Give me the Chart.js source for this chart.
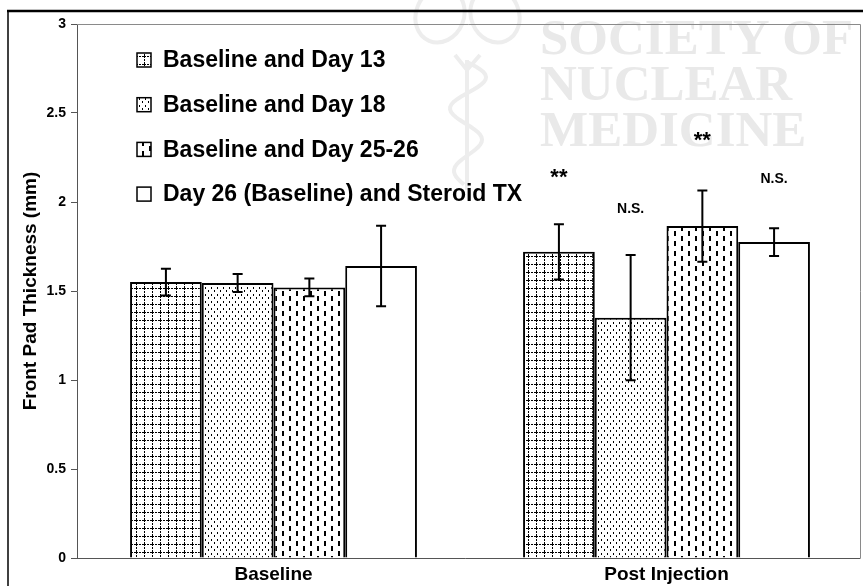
<!DOCTYPE html>
<html>
<head>
<meta charset="utf-8">
<script src="https://cdn.jsdelivr.net/npm/chart.js@4.4.1/dist/chart.umd.min.js"></script>
<style>
  html, body { margin: 0; padding: 0; background: #fff; }
  #wrap { width: 863px; height: 586px; }
</style>
</head>
<body>
<div id="wrap"><canvas id="barChart" width="863" height="586"></canvas></div>
<script>
// values
const groups = ["Baseline", "Post Injection"];
const seriesNames = ["Baseline and Day 13", "Baseline and Day 18", "Baseline and Day 25-26", "Day 26 (Baseline) and Steroid TX"];
const day13 = [1.55, 1.72];
const day18 = [1.545, 1.35];
const day2526 = [1.52, 1.865];
const steroid = [1.64, 1.775];
const err13 = [0.075, 0.155];
const err18 = [0.05, 0.352];
const err2526 = [0.05, 0.2];
const errSteroid = [0.226, 0.078];
// significance marks over the post injection bars
const marks = ["**", "N.S.", "**", "N.S."];
const markY = [2.16, 1.96, 2.365, 2.13];
const yTicks = [0, 0.5, 1, 1.5, 2, 2.5, 3];
const watermarkLines = ["SOCIETY OF", "NUCLEAR", "MEDICINE"];

const FONT = '"Liberation Sans", Arial, sans-serif';

function makePattern(kind) {
    const c = document.createElement('canvas');
    const g = c.getContext('2d');
    if (kind === 'grid') {
        c.width = 8; c.height = 8;
        g.fillStyle = '#fff'; g.fillRect(0, 0, 8, 8);
        g.fillStyle = '#000';
        for (let i = 0; i < 8; i += 3) { g.fillRect(i, 0, 2, 1); g.fillRect(0, i, 1, 2); }
    } else if (kind === 'dots') {
        c.width = 6; c.height = 7;
        g.fillStyle = '#fff'; g.fillRect(0, 0, 6, 7);
        g.fillStyle = '#000';
        g.fillRect(1, 0, 1, 2);
        g.fillRect(4, 3, 1, 2);
    } else if (kind === 'dash') {
        c.width = 14; c.height = 10;
        g.fillStyle = '#fff'; g.fillRect(0, 0, 14, 10);
        g.fillStyle = '#000';
        g.fillRect(2, 1, 2, 5);
        g.fillRect(9, 6, 2, 4);
        g.fillRect(9, 0, 2, 1);
    } else {
        c.width = 4; c.height = 4;
        g.fillStyle = '#fff'; g.fillRect(0, 0, 4, 4);
    }
    return g.createPattern(c, 'repeat');
}

const fills = [makePattern('grid'), makePattern('dots'), makePattern('dash'), makePattern('none')];
const values = [day13, day18, day2526, steroid];
const errors = [err13, err18, err2526, errSteroid];

// faint watermark behind the plot
const watermark = {
    id: 'watermark',
    beforeDraw(chart) {
        const ctx = chart.ctx;
        ctx.save();
        ctx.fillStyle = '#fff';
        ctx.fillRect(0, 0, chart.width, chart.height);
        ctx.strokeStyle = '#ededed';
        ctx.lineWidth = 4;
        // rough caduceus
        ctx.beginPath();
        ctx.moveTo(467, 60); ctx.lineTo(467, 190);
        ctx.stroke();
        ctx.beginPath();
        for (let t = 0; t <= 1; t += 0.02) {
            const yy = 62 + t * 125;
            const xx = 467 + Math.sin(t * Math.PI * 4) * 20 * (1 - t * 0.4);
            if (t === 0) ctx.moveTo(xx, yy); else ctx.lineTo(xx, yy);
        }
        ctx.stroke();
        ctx.beginPath();
        ctx.moveTo(455, 55); ctx.lineTo(467, 70); ctx.lineTo(480, 55);
        ctx.stroke();
        ctx.beginPath();
        ctx.ellipse(440, 15, 24, 28, 0.4, 0, Math.PI * 2);
        ctx.stroke();
        ctx.beginPath();
        ctx.ellipse(495, 15, 24, 28, -0.4, 0, Math.PI * 2);
        ctx.stroke();
        ctx.fillStyle = '#e9e9e9';
        ctx.font = 'bold 51px "Liberation Serif", "Times New Roman", serif';
        ctx.textBaseline = 'alphabetic';
        ctx.textAlign = 'left';
        watermarkLines.forEach((t, i) => ctx.fillText(t, 540, 54 + i * 46));
        ctx.restore();
    }
};

// plot box and outer frame
const frames = {
    id: 'frames',
    afterDraw(chart) {
        const ctx = chart.ctx;
        const a = chart.chartArea;
        ctx.save();
        ctx.strokeStyle = '#8a8a8a';
        ctx.lineWidth = 1;
        ctx.beginPath();
        ctx.moveTo(a.left, a.top + 0.5); ctx.lineTo(860.5, a.top + 0.5); ctx.lineTo(860.5, a.bottom);
        ctx.stroke();
        ctx.strokeStyle = '#555';
        ctx.beginPath();
        ctx.moveTo(a.left - 6, a.bottom + 0.5); ctx.lineTo(860.5, a.bottom + 0.5);
        ctx.stroke();
        ctx.strokeStyle = '#000';
        ctx.lineWidth = 2.5;
        ctx.beginPath();
        ctx.moveTo(7, 11); ctx.lineTo(chart.width, 11);
        ctx.stroke();
        ctx.lineWidth = 1.5;
        ctx.beginPath();
        ctx.moveTo(8, 11); ctx.lineTo(8, chart.height);
        ctx.stroke();
        ctx.restore();
    }
};

const errorBars = {
    id: 'errorBars',
    afterDatasetsDraw(chart) {
        const ctx = chart.ctx;
        const y = chart.scales.y;
        ctx.save();
        ctx.strokeStyle = '#000';
        ctx.lineWidth = 2;
        chart.data.datasets.forEach((ds, i) => {
            chart.getDatasetMeta(i).data.forEach((bar, j) => {
                const v = ds.data[j], e = errors[i][j];
                const top = y.getPixelForValue(v + e), bot = y.getPixelForValue(v - e);
                ctx.beginPath();
                ctx.moveTo(bar.x, top); ctx.lineTo(bar.x, bot);
                ctx.moveTo(bar.x - 5, top); ctx.lineTo(bar.x + 5, top);
                ctx.moveTo(bar.x - 5, bot); ctx.lineTo(bar.x + 5, bot);
                ctx.stroke();
            });
        });
        // significance marks
        ctx.fillStyle = '#000';
        ctx.textAlign = 'center';
        ctx.textBaseline = 'middle';
        marks.forEach((m, i) => {
            const bar = chart.getDatasetMeta(i).data[1];
            ctx.font = m === '**' ? 'bold 22px ' + FONT : 'bold 14px ' + FONT;
            ctx.fillText(m, bar.x, y.getPixelForValue(markY[i]) + (m === '**' ? 4 : 0));
        });
        ctx.restore();
    }
};

const legendBox = {
    id: 'legendBox',
    afterDraw(chart) {
        const ctx = chart.ctx;
        ctx.save();
        ctx.font = 'bold 23px ' + FONT;
        ctx.textBaseline = 'middle';
        ctx.textAlign = 'left';
        chart.data.datasets.forEach((ds, i) => {
            const cy = 60 + i * 44.7;
            ctx.fillStyle = ds.backgroundColor;
            ctx.fillRect(137, cy - 7, 14, 14);
            ctx.strokeStyle = '#000';
            ctx.lineWidth = 1.5;
            ctx.strokeRect(137, cy - 7, 14, 14);
            ctx.fillStyle = '#000';
            ctx.fillText(ds.label, 163, cy + 1);
        });
        ctx.restore();
    }
};

new Chart('barChart', {
    type: 'bar',
    data: {
        labels: groups,
        datasets: seriesNames.map((name, i) => ({
            label: name,
            data: values[i],
            backgroundColor: fills[i],
            borderColor: '#000',
            borderWidth: 2,
            borderSkipped: 'start',
            categoryPercentage: 0.73,
            barPercentage: 1
        }))
    },
    options: {
        responsive: false,
        animation: false,
        layout: { padding: { top: 24, right: 0, left: 0, bottom: 0 } },
        plugins: { legend: { display: false }, tooltip: { enabled: false } },
        scales: {
            x: {
                offset: true,
                grid: { display: false, drawTicks: false },
                border: { display: false },
                ticks: { color: '#000', padding: 5, font: { family: FONT, size: 19, weight: 'bold' } },
                afterFit(s) { s.height = 28; }
            },
            y: {
                min: 0,
                max: 3,
                afterBuildTicks(s) { s.ticks = yTicks.map(v => ({ value: v })); },
                ticks: {
                    color: '#000', padding: 5,
                    font: { family: FONT, size: 14, weight: 'bold' },
                    callback: v => String(v)
                },
                grid: { drawOnChartArea: false, tickLength: 6, color: '#555' },
                border: { display: true, color: '#555', width: 1 },
                title: {
                    display: true,
                    text: 'Front Pad Thickness (mm)',
                    color: '#000',
                    padding: { top: 19, bottom: 0 },
                    font: { family: FONT, size: 19, weight: 'bold' }
                },
                afterFit(s) { s.width = 77; }
            }
        }
    },
    plugins: [watermark, errorBars, legendBox, frames]
});
</script>
</body>
</html>
